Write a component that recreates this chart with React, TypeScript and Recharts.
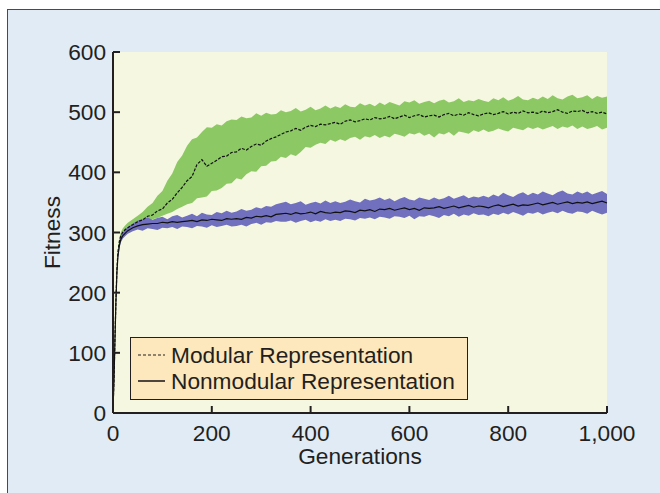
import { ComposedChart, Area, Line, XAxis, YAxis, CartesianGrid, Legend } from "recharts";

// generations sampled along the x axis (dense at the start where the curves rise fast)
const GENERATIONS = [
  0, 2, 4, 6, 8, 10, 13, 16, 20, 25, 30, 40,
  50, 60, 70, 80, 90, 100, 110, 120, 130, 140,
  150, 160, 170, 180, 190, 200, 210, 220, 230, 240,
  250, 260, 270, 280, 290, 300, 310, 320, 330, 340,
  350, 360, 370, 380, 390, 400, 410, 420, 430, 440,
  450, 460, 470, 480, 490, 500, 510, 520, 530, 540,
  550, 560, 570, 580, 590, 600, 610, 620, 630, 640,
  650, 660, 670, 680, 690, 700, 710, 720, 730, 740,
  750, 760, 770, 780, 790, 800, 810, 820, 830, 840,
  850, 860, 870, 880, 890, 900, 910, 920, 930, 940,
  950, 960, 970, 980, 990, 1000,
];

const MODULAR_MEAN = [
  6, 55, 125, 190, 240, 268, 286, 295, 301, 305, 308, 313,
  318, 321, 327, 329, 336, 339, 349, 355, 366, 375,
  386, 393, 413, 421, 410, 415, 420, 426, 427, 433,
  434, 440, 437, 443, 447, 445, 452, 456, 459, 463,
  467, 469, 473, 470, 475, 478, 476, 480, 479, 481,
  483, 480, 485, 487, 484, 486, 489, 487, 491, 489,
  490, 493, 489, 492, 495, 491, 494, 496, 492, 494,
  495, 492, 496, 498, 494, 497, 495, 499, 496, 494,
  497, 499, 496, 498, 501, 497, 500, 498, 502, 499,
  500, 498, 502, 499, 501, 504, 500, 498, 502, 501,
  503, 499, 501, 498, 500, 497,
];

const MODULAR_HIGH = [
  6, 57, 128, 195, 246, 274, 292, 301, 307, 312, 316, 322,
  328, 334, 343, 349, 361, 369, 386, 398, 417, 428,
  444, 455, 458, 467, 475, 474, 480, 478, 485, 488,
  487, 493, 490, 491, 498, 494, 499, 496, 497, 503,
  500, 502, 507, 501, 504, 509, 503, 506, 511, 506,
  510, 507, 513, 509, 508, 515, 511, 514, 510, 516,
  512, 517, 514, 511, 518, 516, 520, 514, 517, 519,
  515, 519, 521, 516, 518, 523, 517, 520, 518, 522,
  519, 517, 523, 520, 525, 519, 522, 527, 521, 520,
  524, 521, 526, 522, 528, 523, 521, 526, 529, 523,
  525, 528, 522, 527, 524, 526,
];

const MODULAR_LOW = [
  6, 53, 121, 185, 234, 262, 280, 289, 295, 299, 302, 306,
  315, 318, 319, 322, 324, 328, 331, 334, 339, 343,
  347, 349, 357, 358, 360, 369, 370, 374, 381, 382,
  390, 388, 397, 402, 401, 410, 411, 418, 419, 426,
  424, 430, 427, 434, 442, 441, 446, 449, 447, 454,
  451, 455, 452, 457, 459, 454, 460, 458, 462, 457,
  461, 458, 464, 462, 459, 465, 463, 466, 461, 464,
  458, 465, 463, 467, 461, 468, 466, 464, 470, 467,
  471, 467, 469, 473, 470, 468, 474, 472, 470, 475,
  472, 475, 471, 474, 477, 472, 476, 474, 478, 472,
  476, 472, 474, 477, 471, 474,
];

const NONMODULAR_MEAN = [
  6, 54, 123, 187, 235, 261, 279, 289, 295, 299, 303, 308,
  311, 313, 314, 315, 315, 317, 316, 318, 317, 318,
  319, 320, 318, 321, 320, 322, 321, 320, 323, 322,
  323, 322, 325, 324, 327, 326, 328, 326, 330, 331,
  332, 330, 333, 331, 332, 334, 331, 335, 333, 332,
  334, 333, 336, 335, 333, 337, 336, 338, 335, 339,
  338, 340, 337, 339, 341, 338, 340, 337, 341, 340,
  341, 343, 340, 342, 344, 341, 343, 345, 342, 344,
  343, 341, 344, 346, 343, 345, 347, 344, 346, 345,
  347, 349, 346, 348, 350, 347, 349, 351, 348, 350,
  349, 351, 348, 350, 352, 349,
];

const NONMODULAR_HIGH = [
  6, 56, 126, 191, 240, 267, 285, 294, 300, 305, 309, 315,
  320, 322, 325, 321, 324, 326, 322, 327, 329, 325,
  328, 331, 327, 333, 330, 329, 334, 332, 336, 333,
  335, 339, 336, 338, 342, 340, 344, 343, 347, 349,
  351, 347, 349, 352, 346, 349, 351, 348, 353, 349,
  352, 349, 351, 355, 352, 350, 356, 353, 355, 358,
  354, 357, 352, 356, 359, 355, 353, 358, 356, 354,
  358, 355, 357, 361, 356, 359, 362, 357, 360, 358,
  361, 358, 363, 360, 366, 362, 359, 364, 367, 362,
  366, 363, 368, 365, 362, 367, 370, 365, 363, 368,
  365, 368, 363, 366, 369, 364,
];

const NONMODULAR_LOW = [
  6, 52, 120, 183, 230, 255, 273, 284, 290, 294, 298, 302,
  305, 303, 307, 306, 304, 308, 307, 309, 306, 310,
  309, 307, 311, 310, 308, 312, 309, 311, 313, 310,
  311, 313, 310, 314, 316, 313, 317, 316, 319, 318,
  318, 320, 316, 319, 321, 317, 320, 318, 322, 319,
  321, 319, 323, 322, 320, 324, 323, 325, 322, 326,
  325, 323, 327, 326, 324, 328, 322, 327, 326, 329,
  327, 324, 329, 327, 331, 326, 330, 328, 332, 329,
  330, 327, 331, 329, 333, 330, 334, 331, 328, 333,
  331, 334, 330, 333, 335, 332, 336, 333, 331, 335,
  334, 331, 336, 333, 330, 333,
];

const X_TICKS = [0, 200, 400, 600, 800, 1000];
const Y_TICKS = [0, 100, 200, 300, 400, 500, 600];

const LEGEND_ITEMS = [
  { label: "Modular Representation", dash: "3 2" },
  { label: "Nonmodular Representation", dash: undefined },
];

const chartData = GENERATIONS.map((gen, i) => ({
  gen,
  modBand: [MODULAR_LOW[i], MODULAR_HIGH[i]],
  modMean: MODULAR_MEAN[i],
  nonBand: [NONMODULAR_LOW[i], NONMODULAR_HIGH[i]],
  nonMean: NONMODULAR_MEAN[i],
}));

const INK = "#231f20";
const FONT = "'Liberation Sans', Arial, Helvetica, sans-serif";
const FONT_SIZE = 22.7;

const LegendBox = () => (
  <div
    style={{
      boxSizing: "border-box",
      width: 338,
      height: 63,
      border: `1.5px solid ${INK}`,
      background: "#fde8bd",
      paddingTop: 4,
      fontFamily: FONT,
      fontSize: FONT_SIZE,
      color: INK,
    }}
  >
    {LEGEND_ITEMS.map((item) => (
      <div key={item.label} style={{ display: "flex", alignItems: "center", height: 26 }}>
        <svg width={40} height={26} style={{ flex: "none" }}>
          <line x1={7} x2={34} y1={13} y2={13} stroke={INK} strokeWidth={item.dash ? 1.1 : 1.6} strokeDasharray={item.dash} />
        </svg>
        <span style={{ lineHeight: "26px", whiteSpace: "nowrap" }}>{item.label}</span>
      </div>
    ))}
  </div>
);

export default function App() {
  return (
    <div style={{ position: "relative", width: 660, height: 493, overflow: "hidden", background: "#fff" }}>
      <style>{"body{margin:0}"}</style>
      <div
        style={{
          position: "absolute",
          left: 7,
          top: 9,
          width: 680,
          height: 520,
          background: "#e0ebf6",
          borderLeft: "1.5px solid #4a4a4a",
          borderTop: "1.5px solid #4a4a4a",
        }}
      />
      <div style={{ position: "absolute", left: 0, top: 0 }}>
        <ComposedChart width={660} height={493} data={chartData} margin={{ top: 52, right: 53, bottom: 40, left: 0 }}>
          <CartesianGrid fill="#f6f7e1" horizontal={false} vertical={false} />
          <XAxis
            dataKey="gen"
            type="number"
            domain={[0, 1000]}
            ticks={X_TICKS}
            tickFormatter={(v: number) => v.toLocaleString("en-US")}
            height={40}
            tickSize={-7}
            tickMargin={19}
            axisLine={{ stroke: INK, strokeWidth: 2 }}
            tickLine={{ stroke: INK, strokeWidth: 2 }}
            tick={{ fill: INK, fontSize: FONT_SIZE, fontFamily: FONT }}
            label={{ value: "Generations", position: "insideBottom", offset: -11, fill: INK, fontSize: FONT_SIZE, fontFamily: FONT }}
          />
          <YAxis
            type="number"
            domain={[0, 600]}
            ticks={Y_TICKS}
            width={113}
            tickSize={-7}
            tickMargin={14}
            axisLine={{ stroke: INK, strokeWidth: 2 }}
            tickLine={{ stroke: INK, strokeWidth: 2 }}
            tick={{ fill: INK, fontSize: FONT_SIZE, fontFamily: FONT }}
            label={{
              value: "Fitness",
              angle: -90,
              position: "insideLeft",
              offset: 52,
              fill: INK,
              fontSize: FONT_SIZE,
              fontFamily: FONT,
              style: { textAnchor: "middle" },
            }}
          />
          <Area dataKey="modBand" type="linear" stroke="none" fill="#8cc864" fillOpacity={1} isAnimationActive={false} activeDot={false} />
          <Area dataKey="nonBand" type="linear" stroke="none" fill="#7070be" fillOpacity={1} isAnimationActive={false} activeDot={false} />
          <Line dataKey="modMean" type="linear" stroke="#111" strokeWidth={1.2} strokeDasharray="3 1.5" dot={false} activeDot={false} isAnimationActive={false} />
          <Line dataKey="nonMean" type="linear" stroke="#111" strokeWidth={1.2} dot={false} activeDot={false} isAnimationActive={false} />
          <Legend
            verticalAlign="middle"
            layout="horizontal"
            content={() => <LegendBox />}
            wrapperStyle={{ left: 130, top: 337, width: 338, height: 63 }}
          />
        </ComposedChart>
      </div>
    </div>
  );
}
